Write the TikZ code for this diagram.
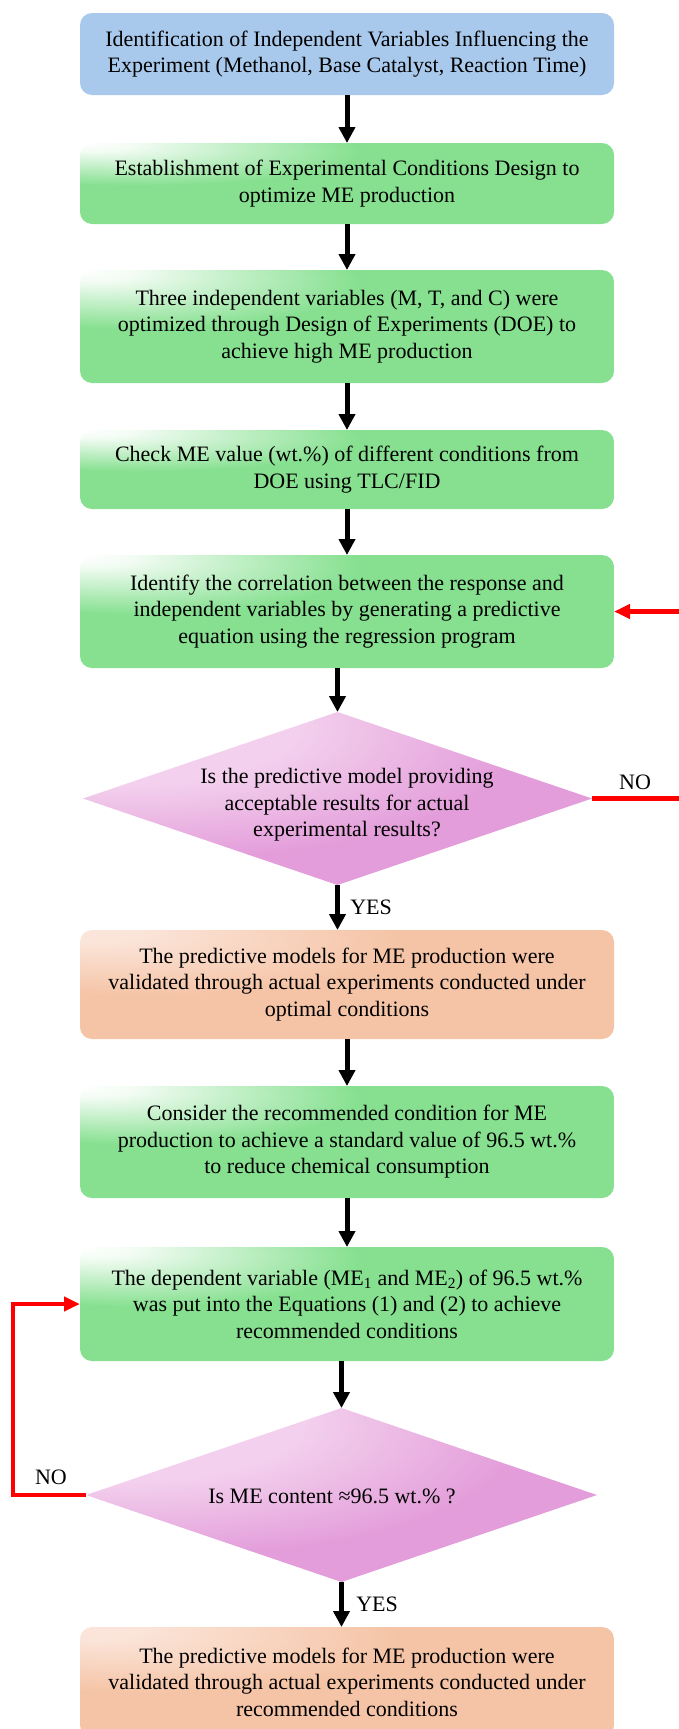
\documentclass[tikz,border=0pt]{standalone}
\usepackage{fontspec}
\setmainfont{Liberation Serif}
\usetikzlibrary{arrows.meta,shapes.geometric}
\definecolor{boxblue}{RGB}{169,201,236}
\definecolor{boxgreen}{RGB}{134,224,144}
\definecolor{boxpeach}{RGB}{245,196,166}
\definecolor{lightpeach}{RGB}{251,229,218}
\definecolor{boxpink}{RGB}{227,157,218}
\definecolor{lightpink}{RGB}{243,208,237}
\definecolor{loopred}{RGB}{255,0,0}
\pgfdeclareradialshading{greenfade}{\pgfqpoint{-25bp}{25bp}}{color(0bp)=(white); color(4bp)=(white!90!boxgreen); color(21bp)=(boxgreen); color(100bp)=(boxgreen)}
\pgfdeclareradialshading{peachfade}{\pgfqpoint{-25bp}{25bp}}{color(0bp)=(lightpeach); color(4bp)=(lightpeach); color(24bp)=(boxpeach); color(100bp)=(boxpeach)}
\pgfdeclareradialshading{pinkfade}{\pgfqpoint{-25bp}{25bp}}{color(0bp)=(lightpink); color(17bp)=(lightpink); color(34bp)=(boxpink); color(100bp)=(boxpink)}

\begin{document}
\begin{tikzpicture}[x=1pt,y=-1pt,
    every node/.style={font=\fontsize{22}{26.5}\selectfont,align=center},
    stepbox/.style={rectangle,rounded corners=12pt,minimum width=534pt,inner sep=0pt,outer sep=0pt},
    bluebox/.style={stepbox,fill=boxblue},
    greenbox/.style={stepbox,shade,shading=greenfade},
    peachbox/.style={stepbox,shade,shading=peachfade},
    query/.style={diamond,inner sep=0pt,outer sep=0pt,shade,shading=pinkfade},
    flow/.style={line width=5pt,-{Triangle[length=16pt,width=16pt]}},
    back/.style={draw=loopred,line width=4.5pt,-{Triangle[length=16pt,width=14pt]}}]
  \useasboundingbox (0,0) rectangle (678,1729);
  % boxes
  \node[bluebox,minimum height=82pt] (ident) at (347,54)
    {Identification of Independent Variables Influencing the\\Experiment (Methanol, Base Catalyst, Reaction Time)};
  \node[greenbox,minimum height=81pt] (design) at (347,183.5)
    {Establishment of Experimental Conditions Design to\\optimize ME production};
  \node[greenbox,minimum height=113pt] (optim) at (347,326.5)
    {Three independent variables (M, T, and C) were\\optimized through Design of Experiments (DOE) to\\achieve high ME production};
  \node[greenbox,minimum height=79pt] (check) at (347,469.5)
    {Check ME value (wt.\%) of different conditions from\\DOE using TLC/FID};
  \node[greenbox,minimum height=113pt] (corr) at (347,611.5)
    {Identify the correlation between the response and\\independent variables by generating a predictive\\equation using the regression program};
  \node[query,minimum width=509pt,minimum height=173pt] (model) at (337.5,798.5) {};
  \node (modeltext) at (347,805)
    {Is the predictive model providing\\acceptable results for actual\\experimental results?};
  \node[peachbox,minimum height=109pt] (optval) at (347,984.5)
    {The predictive models for ME production were\\validated through actual experiments conducted under\\optimal conditions};
  \node[greenbox,minimum height=112pt] (recomm) at (347,1142)
    {Consider the recommended condition for ME\\production to achieve a standard value of 96.5 wt.\%\\to reduce chemical consumption};
  \node[greenbox,minimum height=114pt] (depvar) at (347,1304)
    {The dependent variable (ME\textsubscript{1} and ME\textsubscript{2}) of 96.5 wt.\%\\was put into the Equations (1) and (2) to achieve\\recommended conditions};
  \node[query,minimum width=511pt,minimum height=174pt] (content) at (341.5,1495) {};
  \node (contenttext) at (332,1496) {Is ME content ≈96.5 wt.\% ?};
  \node[peachbox,minimum height=110pt] (recval) at (347,1682)
    {The predictive models for ME production were\\validated through actual experiments conducted under\\recommended conditions};
  % main flow
  \draw[flow] (ident) -- (design);
  \draw[flow] (design) -- (optim);
  \draw[flow] (optim) -- (check);
  \draw[flow] (check) -- (corr);
  \draw[flow] (corr.south -| model.north) -- (model.north);
  \draw[flow] (model.south) -- node[right=7pt]{YES} (model.south |- optval.north);
  \draw[flow] (optval) -- (recomm);
  \draw[flow] (recomm) -- (depvar);
  \draw[flow] (depvar.south -| content.north) -- (content.north);
  \draw[flow] (content.south) -- node[right=9pt]{YES} (content.south |- recval.north);
  % loops back
  \draw[back] (model.east) -- (700,798.5) |- (corr.east);
  \node (noright) at (635,782) {NO};
  \draw[back] (content.west) -- (13,1495) |- (depvar.west);
  \node (noleft) at (51,1477) {NO};
\end{tikzpicture}
\end{document}
